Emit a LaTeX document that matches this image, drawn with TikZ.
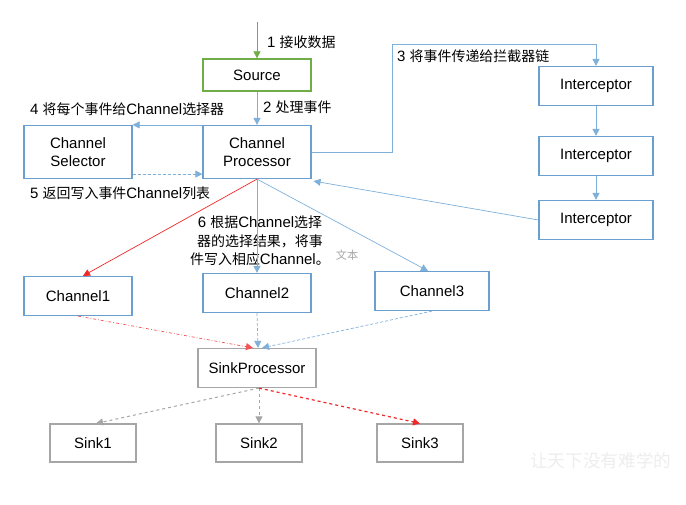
\documentclass[tikz,border=0pt]{standalone}
\usepackage{fontspec}
\setmainfont{Liberation Sans}
\newfontfamily\cjk[Scale=0.93]{Noto Sans CJK SC}
\newcommand{\zh}[1]{{\cjk #1}}
\usepackage{tikz}
\usetikzlibrary{positioning,arrows.meta}

\definecolor{boxblue}{HTML}{6A9FD0}
\definecolor{lineblue}{HTML}{7FB0DA}
\definecolor{srcgreen}{HTML}{70AD47}
\definecolor{sinkgray}{HTML}{A6A6A6}
\definecolor{flowred}{HTML}{F02828}

\tikzset{
    box/.style={draw=boxblue, line width=1.2pt, fill=white, minimum width=108pt,
        minimum height=40pt, align=center, font=\fontsize{15}{18.5}\selectfont},
    sinkbox/.style={box, draw=sinkgray, minimum width=86pt, minimum height=38pt},
    flow/.style={draw=lineblue, line width=0.7pt, -{Triangle[length=7pt,width=7pt]}},
    label/.style={font=\fontsize{15}{18.5}\selectfont, inner sep=0pt}
}

\begin{document}
\begin{tikzpicture}[x=1pt, y=-1pt]
    \useasboundingbox (0,0) rectangle (686,505);

    % Source e Channel Processor
    \node[box, draw=srcgreen, minimum height=32pt] (src) at (257,75) {Source};
    \node[box, minimum height=53pt] (cp) at (257,152) {Channel\\Processor};
    \node[box, minimum height=53pt] (cs) at (78,152) {Channel\\Selector};

    % catena di interceptor
    \foreach \i/\y in {1/86, 2/156, 3/220} {
        \node[box, minimum width=114pt, minimum height=39pt] (ic\i) at (596,\y) {Interceptor};
    }

    % canali
    \node[box, minimum height=39pt] (ch1) at (78,296) {Channel1};
    \node[box, minimum height=39pt] (ch2) at (257,293) {Channel2};
    \node[box, minimum width=114pt, minimum height=39pt] (ch3) at (432,291) {Channel3};

    % sink
    \node[sinkbox, minimum width=118pt, minimum height=39pt] (sp) at (257,368) {SinkProcessor};
    \foreach \i/\x in {1/93, 2/259, 3/420} {
        \node[sinkbox] (sk\i) at (\x,443) {Sink\i};
    }

    % etichette
    \node[label, anchor=west] (l1) at (267,42) {1 \zh{接收数据}};
    \node[label, anchor=west] (l2) at (263,107) {2 \zh{处理事件}};
    \node[label, anchor=west] (l3) at (397,56) {3 \zh{将事件传递给拦截器链}};
    \node[label, anchor=west] (l4) at (30,109) {4 \zh{将每个事件给}Channel\zh{选择器}};
    \node[label, anchor=west] (l5) at (30,193) {5 \zh{返回写入事件}Channel\zh{列表}};
    \node[label, align=center, font=\fontsize{15}{18.5}\selectfont] (l6) at (260,241)
        {6 \zh{根据}Channel\zh{选择}\\\zh{器的选择结果，将事}\\\zh{件写入相应}Channel\zh{。}};
    \node[label, text=sinkgray, font=\fontsize{12}{13}\selectfont] (txt) at (347,255) {\zh{文本}};
    \node[label, anchor=west, text=black!7, font=\fontsize{19}{20}\selectfont] (wm) at (530,461) {\zh{让天下没有难学的}};

    % collegamenti
    \coordinate (in) at (257,22);
    \coordinate (turn) at (392,44);
    \draw[flow, draw=srcgreen] (in) -- (src);
    \draw[flow] (src) -- (cp);
    \draw[flow] (cp.north west) -- (cs.north east);
    \draw[flow, densely dashed] ([yshift=5pt]cs.south east) -- ([yshift=5pt]cp.south west);
    \draw[flow] (cp.east) -| (turn) -| (ic1.north);
    \draw[flow] (ic1) -- (ic2);
    \draw[flow] (ic2) -- (ic3);
    \draw[flow] (ic3.west) -- ([xshift=2pt,yshift=-2pt]cp.south east);
    \draw[flow, draw=flowred] (cp.south) -- ([xshift=5pt]ch1.north);
    \draw[flow] (cp.south) -- (ch2.north);
    \draw[flow] (cp.south) -- ([xshift=-4pt]ch3.north);
    \draw[flow, draw=flowred!80, dash dot] (ch1.south) -- ([xshift=-4pt]sp.north);
    \draw[flow, densely dashed] (ch2.south) -- ([xshift=1pt]sp.north);
    \draw[flow, densely dashed] (ch3.south) -- ([xshift=5pt]sp.north);
    \draw[flow, draw=sinkgray, line width=1pt, dashed] ([xshift=2pt]sp.south) -- ([xshift=3pt]sk1.north);
    \draw[flow, draw=sinkgray, line width=1pt, dashed] ([xshift=2pt]sp.south) -- (sk2.north);
    \draw[flow, draw=flowred, line width=1.2pt, dashed] ([xshift=2pt]sp.south) -- (sk3.north);
\end{tikzpicture}
\end{document}
